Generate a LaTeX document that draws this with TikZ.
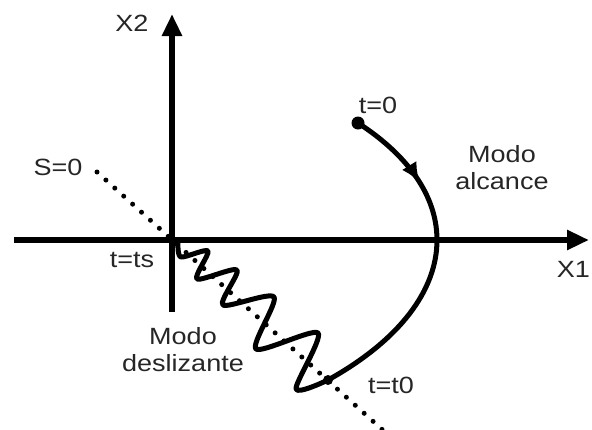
\documentclass[tikz,border=0pt]{standalone}
\usepackage{fontspec}
\setmainfont{Liberation Sans}[FakeStretch=1.15]
\usepackage{tikz}
\usetikzlibrary{arrows.meta,decorations.markings}
\tikzset{
  axis/.style={
    line width=5.5pt,
    -{Triangle[length=22pt,width=19pt]}
  },
  traj/.style={
    line width=5pt,
    line join=round,
    line cap=round
  },
  surf/.style={
    line width=5pt,
    line cap=round,
    dash pattern=on 0pt off 12pt
  },
  lbl/.style={
    font=\fontsize{23.5}{27}\selectfont,
    text=black!85,
    inner sep=1pt,
    align=center
  },
  dot/.style={
    circle,
    fill,
    inner sep=0pt
  }
}
\begin{document}
\begin{tikzpicture}[x=1pt,y=-1pt]
    \useasboundingbox (0,0) rectangle (592,429);
    % axes
    \coordinate (O) at (172,240);
    \coordinate (xa) at (14,240);
    \coordinate (xb) at (589,240);
    \coordinate (ya) at (172,312);
    \coordinate (yb) at (172,14);
    \draw[axis] (xa) -- (xb);
    \draw[axis] (ya) -- (yb);
    % sliding surface S=0
    \coordinate (sa) at (97,172);
    \coordinate (sb) at (386,433);
    \draw[surf] (sa) -- (sb);
    % reaching mode
    \node[dot,minimum size=13pt] (start) at (358,123) {};
    \node[dot,minimum size=10pt] (tz) at (328,380) {};
    \draw[traj,decoration={markings,
        mark=at position 0.26 with {\arrow{Latex[length=20pt,width=17pt]}}},
        postaction={decorate}]
        (start.center) .. controls (400,150) and (437,190) .. (437,240)
        .. controls (437,290) and (400,340) .. (tz.center);
    % sliding mode
    \draw[traj] plot[smooth,tension=0.45] coordinates {
        (328,380) (296,389) (318,333) (256,349) (274,297)
        (223,305) (237,270) (197,279) (208,251) (181,257) (178,243)};
    % labels
    \node[lbl] (x2) at (132,23) {X2};
    \node[lbl,anchor=east] (x1) at (591,269) {X1};
    \node[lbl] (s0) at (58,167) {S=0};
    \node[lbl] (tts) at (132,260) {t=ts};
    \node[lbl] (t0) at (378,105) {t=0};
    \node[lbl] (ttz) at (391,385) {t=t0};
    \node[lbl] (alc) at (502,168) {Modo\\alcance};
    \node[lbl] (des) at (183,350) {Modo\\deslizante};
\end{tikzpicture}
\end{document}
